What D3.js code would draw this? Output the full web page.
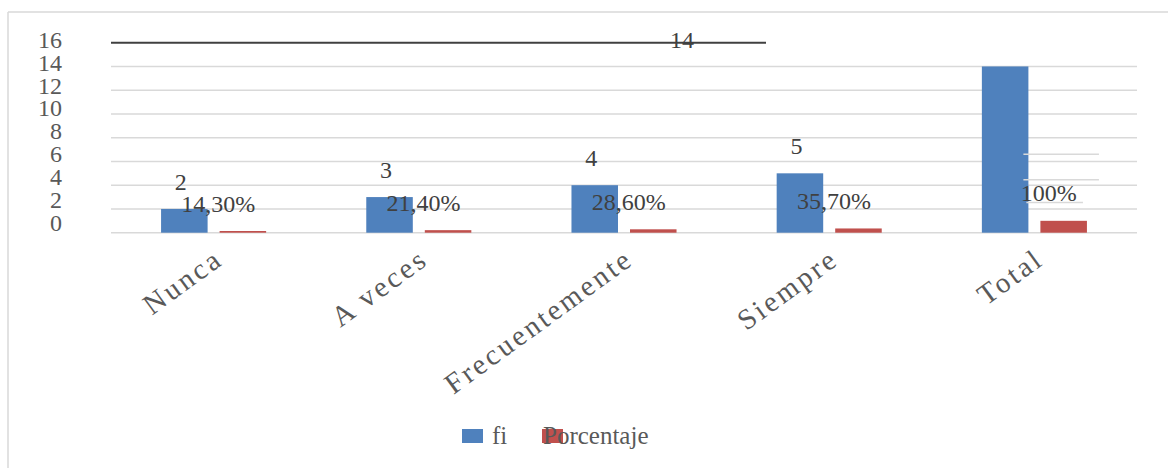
<!DOCTYPE html>
<html>
<head>
<meta charset="utf-8">
<script src="https://cdn.jsdelivr.net/npm/d3@7/dist/d3.min.js"></script>
<style>
  html, body { margin: 0; padding: 0; background: #fff; }
  svg { display: block; }
  text { font-family: "Liberation Serif", "Times New Roman", serif; }
</style>
</head>
<body>
<svg id="chart" width="1168" height="468"></svg>
<script>
// ---- data ----
const categories = ["Nunca", "A veces", "Frecuentemente", "Siempre", "Total"];
const fiValues = [2, 3, 4, 5, 14];
const pctValues = [0.143, 0.214, 0.286, 0.357, 1];
const pctLabels = ["14,30%", "21,40%", "28,60%", "35,70%", "100%"];
const seriesNames = ["fi", "Porcentaje"];
const yTicks = [0, 2, 4, 6, 8, 10, 12, 14, 16];
const leaderValues = [6.6, 4.45, 2.55];

const colors = { fi: "#4F81BD", Porcentaje: "#C0504D" };

const svg = d3.select("#chart");

// frame
svg.append("line").attr("x1", 8).attr("x2", 1168).attr("y1", 12).attr("y2", 12)
  .attr("stroke", "#D9D9D9").attr("stroke-width", 1.5);
svg.append("line").attr("x1", 8).attr("x2", 8).attr("y1", 12).attr("y2", 468)
  .attr("stroke", "#D9D9D9").attr("stroke-width", 1.5);

const plotLeft = 111, plotRight = 1137;
const y = d3.scaleLinear().domain([0, 16]).range([232.7, 42.7]);
const yLab = d3.scaleLinear().domain([0, 16]).range([231, 47.7]);

const x0 = d3.scaleBand().domain(categories).range([plotLeft, plotRight])
  .paddingInner(0.488).paddingOuter(0.244);
const x1 = d3.scaleBand().domain(seriesNames).range([0, x0.bandwidth()])
  .paddingInner(0.205);

// gridlines (except top)
svg.append("g").selectAll("line").data(yTicks.filter(t => t < 16)).join("line")
  .attr("x1", plotLeft).attr("x2", plotRight)
  .attr("y1", d => y(d)).attr("y2", d => y(d))
  .attr("stroke", "#D9D9D9").attr("stroke-width", 1.5);

// top dark line
svg.append("line").attr("x1", plotLeft).attr("x2", 766)
  .attr("y1", y(16)).attr("y2", y(16))
  .attr("stroke", "#404040").attr("stroke-width", 2);

// y tick labels
svg.append("g").selectAll("text").data(yTicks).join("text")
  .attr("x", 62).attr("y", d => yLab(d))
  .attr("text-anchor", "end")
  .attr("font-size", 24)
  .attr("fill", "#595959")
  .text(d => d);

// bars
const groups = svg.append("g").selectAll("g").data(categories).join("g")
  .attr("transform", d => `translate(${x0(d)},0)`);

groups.append("rect")
  .attr("x", x1("fi")).attr("width", x1.bandwidth())
  .attr("y", (d, i) => y(fiValues[i]))
  .attr("height", (d, i) => y(0) - y(fiValues[i]))
  .attr("fill", colors.fi);

groups.append("rect")
  .attr("x", x1("Porcentaje")).attr("width", x1.bandwidth())
  .attr("y", (d, i) => y(pctValues[i]))
  .attr("height", (d, i) => y(0) - y(pctValues[i]))
  .attr("fill", colors.Porcentaje);

// leader line artifacts near Total
const lastX = x0("Total");
svg.append("g").selectAll("line").data(leaderValues).join("line")
  .attr("x1", (d, i) => lastX + x1("fi") + x1.bandwidth() - 5 + (i === 2 ? 3 : 0))
  .attr("x2", (d, i) => lastX + x1("Porcentaje") + x1.bandwidth() + (i === 2 ? -4 : 12))
  .attr("y1", d => y(d)).attr("y2", d => y(d))
  .attr("stroke", "#D9D9D9").attr("stroke-width", 1.5);

// fi labels
groups.append("text")
  .attr("x", (d, i) => i === 4 ? 682 - x0(d) : x1("fi") + x1.bandwidth() / 2 - 3.5)
  .attr("y", (d, i) => i === 4 ? y(16) + 5.5 : y(fiValues[i]) - 19)
  .attr("text-anchor", "middle")
  .attr("font-size", 24)
  .attr("fill", "#404040")
  .text((d, i) => fiValues[i]);

// pct labels
groups.append("text")
  .attr("x", (d, i) => x1("Porcentaje") + x1.bandwidth() / 2 - (i === 4 ? 15 : 24.5))
  .attr("y", (d, i) => y(pctValues[i]) - 19.5)
  .attr("text-anchor", "middle")
  .attr("font-size", 24)
  .attr("fill", "#404040")
  .text((d, i) => pctLabels[i]);

// x axis labels
svg.append("g").selectAll("text").data(categories).join("text")
  .attr("transform", d => `translate(${x0(d) + x0.bandwidth() / 2 + 11},263) rotate(-36)`)
  .attr("text-anchor", "end")
  .attr("font-size", 29)
  .attr("letter-spacing", 2.8)
  .attr("fill", "#595959")
  .text(d => d);

// legend
const legend = svg.append("g");
legend.append("rect").attr("x", 462).attr("y", 429).attr("width", 21).attr("height", 14)
  .attr("fill", colors.fi);
legend.append("text").attr("x", 492).attr("y", 444).attr("font-size", 25)
  .attr("fill", "#595959").text(seriesNames[0]);
legend.append("rect").attr("x", 542).attr("y", 429).attr("width", 21).attr("height", 14)
  .attr("fill", colors.Porcentaje);
legend.append("text").attr("x", 543).attr("y", 444).attr("font-size", 25)
  .attr("fill", "#595959").text(seriesNames[1]);
</script>
</body>
</html>
